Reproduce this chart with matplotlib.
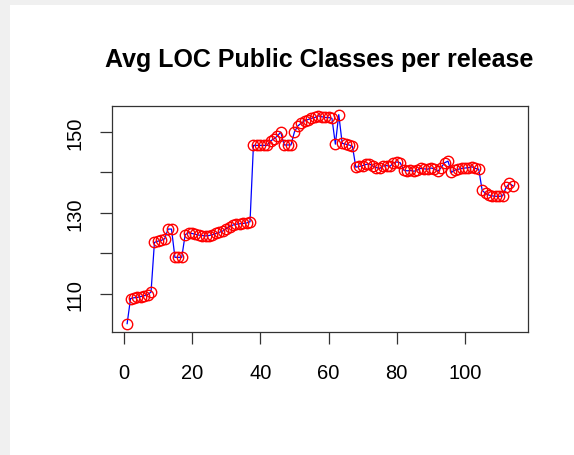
import numpy as np
import matplotlib
matplotlib.use("Agg")
import matplotlib.pyplot as plt

plt.rcParams["font.family"] = ["Liberation Sans", "DejaVu Sans"]

# average LOC of public classes, one value per release
avg_loc = [
    102.6, 108.8, 109.0, 109.1, 109.3, 109.5, 109.8, 110.4, 122.7, 123.0,
    123.2, 123.6, 126.0, 126.0, 119.0, 119.0, 119.0, 124.6, 125.1, 124.9,
    124.7, 124.5, 124.4, 124.3, 124.4, 124.6, 124.9, 125.2, 125.5, 126.1,
    126.6, 127.0, 127.2, 127.3, 127.4, 127.5, 127.8, 146.7, 146.7, 146.7,
    146.7, 146.7, 147.8, 148.3, 149.0, 150.0, 146.8, 146.8, 146.8, 150.0,
    151.5, 152.2, 152.8, 153.1, 153.4, 153.6, 154.0, 153.8, 153.6, 153.6,
    153.4, 147.0, 154.3, 147.2, 147.0, 146.8, 146.5, 141.3, 141.5, 141.7,
    142.0, 142.1, 141.6, 141.2, 141.0, 141.6, 141.7, 141.5, 142.4, 142.6,
    142.4, 140.6, 140.4, 140.5, 140.3, 140.6, 141.0, 140.9, 140.8, 141.1,
    140.9, 140.3, 141.2, 142.4, 142.8, 140.0, 140.6, 140.8, 141.0, 141.1,
    141.2, 141.4, 141.0, 140.8, 135.6, 134.8, 134.4, 134.2, 134.1, 134.1,
    134.2, 136.3, 137.3, 136.7,
]
release = np.arange(1, len(avg_loc) + 1)

x_ticks = [0, 20, 40, 60, 80, 100]
y_ticks = [110, 120, 130, 140, 150]
y_labels = ["110", "", "130", "", "150"]

fig = plt.figure(figsize=(5.74, 4.56), dpi=100, facecolor="#f0f0f0")
# white page area (screenshot has a thin grey border top/left)
fig.patches.append(plt.Rectangle((10 / 574, 0), 1, 450 / 456, transform=fig.transFigure,
                                 facecolor="white", edgecolor="none", zorder=-1))

ax = fig.add_axes([111.7 / 574, 123 / 456, 416.6 / 574, 225.7 / 456])
ax.plot(release, avg_loc, color="blue", lw=0.9, zorder=2)
ax.plot(release, avg_loc, "o", mfc="none", mec="red", ms=7.5, mew=1.0, zorder=3)

ax.margins(0.04)
ax.set_xticks(x_ticks)
ax.set_yticks(y_ticks)
ax.set_yticklabels(y_labels, rotation=90, va="center")
ax.tick_params(direction="out", length=8.5, width=0.9, labelsize=14.5, color="#333333")
ax.tick_params(axis="x", pad=14)
ax.tick_params(axis="y", pad=11)
for s in ax.spines.values():
    s.set_linewidth(0.9)
    s.set_color("#333333")

fig.text(319 / 574, 1 - 60 / 456, "Avg LOC Public Classes per release",
         ha="center", va="center", fontsize=18, fontweight="bold")

fig.savefig("out.png", dpi=100, facecolor=fig.get_facecolor())
